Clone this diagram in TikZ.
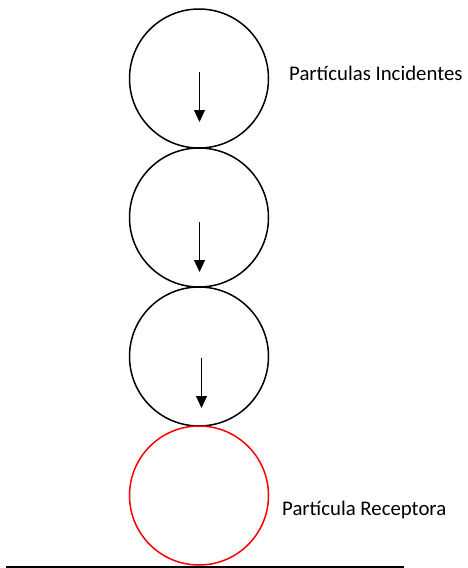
\documentclass[tikz,border=0pt]{standalone}
\usepackage{fontspec}
\setmainfont{Carlito}
\usetikzlibrary{arrows.meta}
\tikzset{
  particle/.style={circle, draw=black, line width=1.5pt, minimum size=139pt, inner sep=0pt},
  receptor/.style={particle, draw=red},
  motion/.style={-{Triangle[width=11pt,length=12pt]}, line width=1pt},
  caption/.style={anchor=base west, inner sep=0pt, font=\fontsize{20.8pt}{24pt}\selectfont}
}
\begin{document}
\begin{tikzpicture}[x=1pt, y=-1pt]
  \useasboundingbox (0,0) rectangle (467,568);
  % stack of particles falling onto the receptor
  \node[particle] (p1) at (199,78.5) {};
  \node[particle] (p2) at (199,217.5) {};
  \node[particle] (p3) at (199,356.5) {};
  \node[receptor] (p4) at (199,495.5) {};
  % velocity arrows
  \coordinate (a1s) at (199.5,71.5);  \coordinate (a1e) at (199.5,122);
  \coordinate (a2s) at (199.5,221.5); \coordinate (a2e) at (199.5,272);
  \coordinate (a3s) at (201.5,357.5); \coordinate (a3e) at (201.5,408);
  \draw[motion] (a1s) -- (a1e);
  \draw[motion] (a2s) -- (a2e);
  \draw[motion] (a3s) -- (a3e);
  % ground
  \coordinate (g1) at (6,567);
  \coordinate (g2) at (404,567);
  \draw[line width=1.5pt] (g1) -- (g2);
  % labels
  \node[caption] (l1) at (289,80.7) {Partículas Incidentes};
  \node[caption] (l2) at (282,515) {Partícula Receptora};
\end{tikzpicture}
\end{document}
